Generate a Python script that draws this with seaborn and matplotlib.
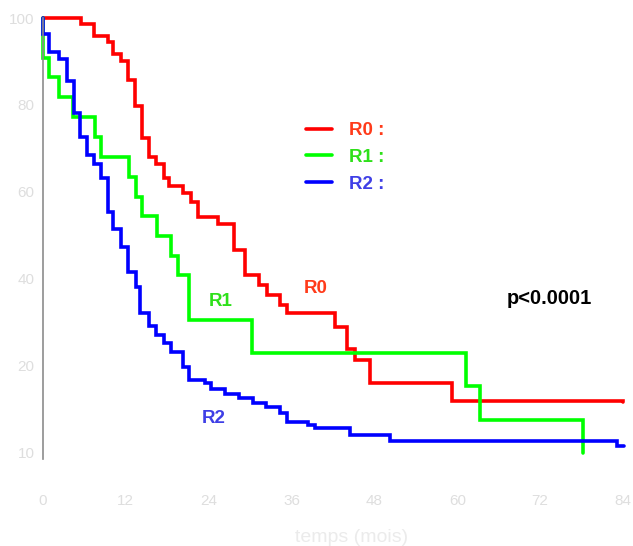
import numpy as np
import pandas as pd
import matplotlib
matplotlib.use("Agg")
import matplotlib.pyplot as plt
import seaborn as sns
from matplotlib.lines import Line2D

# ---- data ----
groups = ["R0", "R1", "R2"]
r0_time = [0, 5.5, 7.4, 9.4, 10.2, 11.3, 12.3, 13.3, 14.3, 15.3, 16.3, 17.5, 18.3, 20.3,
           21.4, 22.4, 25.4, 27.6, 29.3, 31.3, 32.5, 34.3, 35.4, 42.3, 44.0, 45.2, 47.3,
           59.3, 84.0]
r0_surv = [100, 98.6, 95.9, 94.5, 91.7, 90.1, 85.7, 79.8, 72.4, 68.0, 66.4, 63.2, 61.4, 59.8,
           57.7, 54.3, 52.6, 46.7, 40.9, 38.6, 36.3, 34.0, 32.2, 29.0, 23.9, 21.4, 16.1,
           12.0, 11.8]
r1_time = [0, 0, 0.9, 2.3, 4.3, 7.5, 8.4, 12.4, 13.4, 14.3, 16.5, 18.5, 19.5, 21.2,
           30.3, 61.3, 63.3, 78.2]
r1_surv = [100, 90.8, 86.4, 81.8, 77.2, 72.6, 68.0, 63.4, 58.9, 54.5, 49.9, 45.3, 40.9, 30.6,
           23.0, 15.4, 7.6, 0.0]
r2_time = [0, 0, 0.9, 2.3, 3.5, 4.5, 5.3, 6.3, 7.4, 8.4, 9.4, 10.2, 11.3, 12.3, 13.4, 14.1,
           15.3, 16.3, 17.5, 18.5, 20.3, 21.2, 23.4, 24.4, 26.4, 28.4, 30.4, 32.3, 34.3,
           35.4, 38.4, 39.4, 44.4, 50.2, 83.1, 84.1]
r2_surv = [100, 96.3, 92.2, 90.6, 85.5, 78.2, 72.6, 68.5, 66.4, 63.2, 55.4, 51.5, 47.4, 41.6,
           38.2, 32.2, 29.2, 27.1, 25.3, 23.2, 19.8, 16.8, 16.1, 14.7, 13.6, 12.6, 11.5,
           10.6, 9.2, 7.1, 6.4, 5.7, 4.1, 2.8, 1.6, 1.6]

x_ticks = [0, 12, 24, 36, 48, 60, 72, 84]
y_ticks = [0, 20, 40, 60, 80, 100]
y_tick_labels = ["10", "20", "40", "60", "80", "100"]
x_label = "temps (mois)"
legend_labels = ["R0 :", "R1 :", "R2 :"]
p_text = "p<0.0001"

line_colors = {"R0": "#ff0000", "R1": "#00ff00", "R2": "#0000ff"}
text_colors = {"R0": "#ff3b1a", "R1": "#2ee01a", "R2": "#3f3fe6"}

df = pd.concat([
    pd.DataFrame({"t": r0_time, "s": r0_surv, "g": "R0"}),
    pd.DataFrame({"t": r1_time, "s": r1_surv, "g": "R1"}),
    pd.DataFrame({"t": r2_time, "s": r2_surv, "g": "R2"}),
], ignore_index=True)

sns.set_style("white")
plt.rcParams["font.family"] = ["Liberation Sans", "DejaVu Sans"]

W, H = 633, 546
fig = plt.figure(figsize=(W / 100, H / 100), dpi=100)
left_px, right_px, top_px, bot_px = 43, 623, 18, 459
ax = fig.add_axes([left_px / W, 1 - bot_px / H, (right_px - left_px) / W, (bot_px - top_px) / H])

sns.lineplot(data=df, x="t", y="s", hue="g", hue_order=groups, palette=line_colors,
             drawstyle="steps-post", estimator=None, sort=False, linewidth=2.6,
             legend=False, ax=ax)
for ln in ax.lines:
    ln.set_clip_on(False)
    ln.set_solid_joinstyle("miter")

ax.set_xlim(0, 84)
ax.set_ylim(-1.4, 100)
ax.set_xticks(x_ticks)
ax.set_xticklabels([str(v) for v in x_ticks])
ax.set_yticks(y_ticks)
ax.set_yticklabels(y_tick_labels)
ax.set_xlabel("")
ax.set_ylabel("")
for s in ["top", "right", "bottom"]:
    ax.spines[s].set_visible(False)
ax.spines["left"].set_color("#8c8c8c")
ax.spines["left"].set_linewidth(1.2)
ax.tick_params(axis="x", length=0, pad=25, labelsize=11, labelcolor="#dedede")
ax.tick_params(axis="y", length=0, pad=6, labelsize=11, labelcolor="#dedede")

fig.text(352 / W, 1 - 537 / H, x_label, ha="center", va="center", fontsize=14, color="#ebebeb")

# legend
handles = [Line2D([], [], color=line_colors[g], linewidth=2.6) for g in groups]
leg = ax.legend(handles, legend_labels, loc="upper left",
                bbox_to_anchor=((306 - left_px) / (right_px - left_px), 1 - (122 - top_px) / (bot_px - top_px)),
                frameon=False, handlelength=1.4, handletextpad=0.9, labelspacing=0.52,
                borderpad=0, borderaxespad=0, prop={"weight": "bold", "size": 13.5})
for txt, g in zip(leg.get_texts(), groups):
    txt.set_color(text_colors[g])

# curve labels
ax.text(39.5, 37.7, "R0", color=text_colors["R0"], fontsize=13.5, fontweight="bold", ha="center", va="center")
ax.text(25.8, 34.9, "R1", color=text_colors["R1"], fontsize=13.5, fontweight="bold", ha="center", va="center")
ax.text(24.7, 8.0, "R2", color=text_colors["R2"], fontsize=13.5, fontweight="bold", ha="center", va="center")
ax.text(73.4, 35.6, p_text, color="black", fontsize=14.5, fontweight="bold", ha="center", va="center")

fig.savefig("out.png", dpi=100, facecolor="white")
